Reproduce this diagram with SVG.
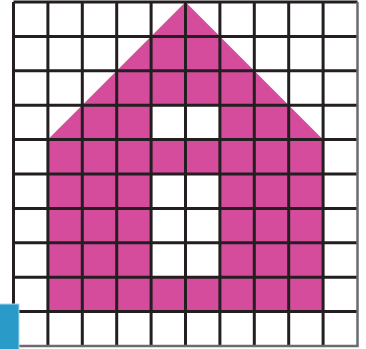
<svg xmlns="http://www.w3.org/2000/svg" width="366" height="349" viewBox="0 0 366 349">
<style>
.pink{fill:#D64C9C}
.hole{fill:#FFFFFF}
.grid line{stroke:#231F20;stroke-width:3}
.edge{stroke:#6B6B6B;stroke-width:2.5;fill:none}
</style>
<rect width="366" height="349" fill="#FFFFFF"/>
<g id="house">
<path class="pink" d="M185.5,2 L323,139.6 L323,311.6 L47.9,311.6 L47.9,139.6 Z"/>
<rect class="hole" x="151.1" y="105.2" width="68.8" height="34.4"/>
<rect class="hole" x="151.1" y="174" width="68.8" height="103.2"/>
</g>
<g id="grid" class="grid">
<line x1="47.9" y1="2" x2="47.9" y2="346"/>
<line x1="82.3" y1="2" x2="82.3" y2="346"/>
<line x1="116.7" y1="2" x2="116.7" y2="346"/>
<line x1="151.1" y1="2" x2="151.1" y2="346"/>
<line x1="185.5" y1="2" x2="185.5" y2="346"/>
<line x1="219.9" y1="2" x2="219.9" y2="346"/>
<line x1="254.3" y1="2" x2="254.3" y2="346"/>
<line x1="288.7" y1="2" x2="288.7" y2="346"/>
<line x1="323.1" y1="2" x2="323.1" y2="346"/>
<line x1="13.5" y1="36.4" x2="357.5" y2="36.4"/>
<line x1="13.5" y1="70.8" x2="357.5" y2="70.8"/>
<line x1="13.5" y1="105.2" x2="357.5" y2="105.2"/>
<line x1="13.5" y1="139.6" x2="357.5" y2="139.6"/>
<line x1="13.5" y1="174" x2="357.5" y2="174"/>
<line x1="13.5" y1="208.4" x2="357.5" y2="208.4"/>
<line x1="13.5" y1="242.8" x2="357.5" y2="242.8"/>
<line x1="13.5" y1="277.2" x2="357.5" y2="277.2"/>
<line x1="13.5" y1="311.6" x2="357.5" y2="311.6"/>
<line x1="13.5" y1="2" x2="357.5" y2="2"/>
<line x1="13.5" y1="2" x2="13.5" y2="346"/>
</g>
<g id="border">
<path class="edge" d="M357.5,2 L357.5,346 L13.5,346"/>
</g>
<g id="tab">
<rect x="-1" y="304" width="20" height="46" fill="#2A9BC9" stroke="#A8D8EE" stroke-width="1"/>
</g>
</svg>
